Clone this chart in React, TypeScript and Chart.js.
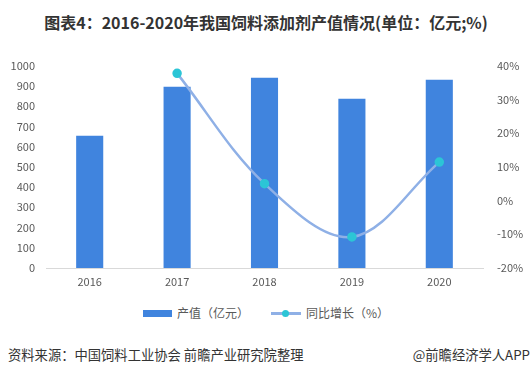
import React, { useEffect, useRef } from "react";
import { Chart, registerables } from "chart.js";

Chart.register(...registerables);

const categories = ["2016", "2017", "2018", "2019", "2020"];
const outputValues = [653, 896, 940, 836, 930];
const growthValues: (number | null)[] = [null, 37.7, 5.0, -10.8, 11.4];
const leftTicks = [0, 100, 200, 300, 400, 500, 600, 700, 800, 900, 1000];
const rightTicks = [-20, -10, 0, 10, 20, 30, 40];
const seriesNames = ["产值（亿元）", "同比增长（%）"];

const BAR_COLOR = "#4084de";
const LINE_COLOR = "#8fb0e6";
const POINT_COLOR = "#2cc5d6";
const FONT = "'Noto Sans CJK SC', 'Noto Sans', sans-serif";

export default function App() {
  const ref = useRef<HTMLCanvasElement>(null);

  useEffect(() => {
    const chart = new Chart(ref.current!, {
      type: "bar",
      data: {
        labels: categories,
        datasets: [
          {
            type: "bar",
            label: seriesNames[0],
            data: outputValues,
            backgroundColor: BAR_COLOR,
            barPercentage: 0.31,
            categoryPercentage: 1,
            yAxisID: "y",
            order: 1,
          },
          {
            type: "line",
            label: seriesNames[1],
            data: growthValues,
            borderColor: LINE_COLOR,
            borderWidth: 2.5,
            backgroundColor: POINT_COLOR,
            pointBackgroundColor: POINT_COLOR,
            pointBorderColor: POINT_COLOR,
            pointRadius: 3.5,
            pointStyle: "circle",
            tension: 0.35,
            yAxisID: "y1",
            order: 0,
          } as any,
        ],
      },
      options: {
        responsive: false,
        animation: false,
        layout: { padding: { top: 14, left: 0, right: 0, bottom: 0 } },
        plugins: {
          tooltip: { enabled: false },
          legend: { display: false },
        },
        scales: {
          x: {
            grid: { display: false, drawTicks: false },
            border: { display: true, color: "#d9d9d9", width: 1 },
            ticks: { color: "#595959", font: { family: FONT, size: 11 }, padding: 7 },
            afterFit: (s: any) => {
              s.height = 30;
            },
          },
          y: {
            position: "left",
            min: 0,
            max: 1000,
            afterBuildTicks: (s: any) => {
              s.ticks = leftTicks.map((v) => ({ value: v }));
            },
            afterFit: (s: any) => {
              s.width = 46;
            },
            grid: { display: false, drawTicks: false },
            border: { display: false },
            ticks: {
              color: "#595959",
              font: { family: FONT, size: 11 },
              padding: 11,
              callback: (v: any) => String(v),
            },
          },
          y1: {
            position: "right",
            min: -20,
            max: 40,
            afterBuildTicks: (s: any) => {
              s.ticks = rightTicks.map((v) => ({ value: v }));
            },
            afterFit: (s: any) => {
              s.width = 49;
            },
            grid: { display: false, drawTicks: false },
            border: { display: false },
            ticks: {
              color: "#595959",
              font: { family: FONT, size: 11 },
              padding: 14,
              callback: (v: any) => v + "%",
            },
          },
        },
      },
    });
    return () => chart.destroy();
  }, []);

  const legendText: React.CSSProperties = { fontSize: 12, color: "#595959", marginLeft: 5, lineHeight: "16px" };

  return (
    <div style={{ position: "absolute", left: 0, top: 0, width: 532, height: 375, background: "#fff", fontFamily: FONT }}>
      <div
        style={{
          position: "absolute",
          top: 10,
          left: 0,
          width: 532,
          textAlign: "center",
          fontSize: 16,
          fontWeight: "bold",
          color: "#333",
          lineHeight: "24px",
        }}
      >
        图表4：2016-2020年我国饲料添加剂产值情况(单位：亿元;%)
      </div>
      <canvas ref={ref} width={532} height={253} style={{ position: "absolute", left: 0, top: 45 }} />
      <div
        style={{
          position: "absolute",
          top: 305,
          left: 0,
          width: 532,
          display: "flex",
          justifyContent: "center",
          alignItems: "center",
        }}
      >
        <div style={{ display: "flex", alignItems: "center" }}>
          <div style={{ width: 29, height: 7, background: BAR_COLOR }} />
          <span style={legendText}>{seriesNames[0]}</span>
        </div>
        <div style={{ display: "flex", alignItems: "center", marginLeft: 22 }}>
          <div style={{ position: "relative", width: 30, height: 8 }}>
            <div style={{ position: "absolute", left: 0, top: 3, width: 30, height: 2.5, background: LINE_COLOR }} />
            <div
              style={{
                position: "absolute",
                left: 11.5,
                top: 0.5,
                width: 7,
                height: 7,
                borderRadius: "50%",
                background: POINT_COLOR,
              }}
            />
          </div>
          <span style={legendText}>{seriesNames[1]}</span>
        </div>
      </div>
      <div style={{ position: "absolute", left: 8, top: 345, fontSize: 13.3, color: "#333", lineHeight: "20px" }}>
        资料来源：中国饲料工业协会 前瞻产业研究院整理
      </div>
      <div style={{ position: "absolute", right: 2, top: 345, fontSize: 13.3, color: "#333", lineHeight: "20px" }}>
        @前瞻经济学人APP
      </div>
    </div>
  );
}
